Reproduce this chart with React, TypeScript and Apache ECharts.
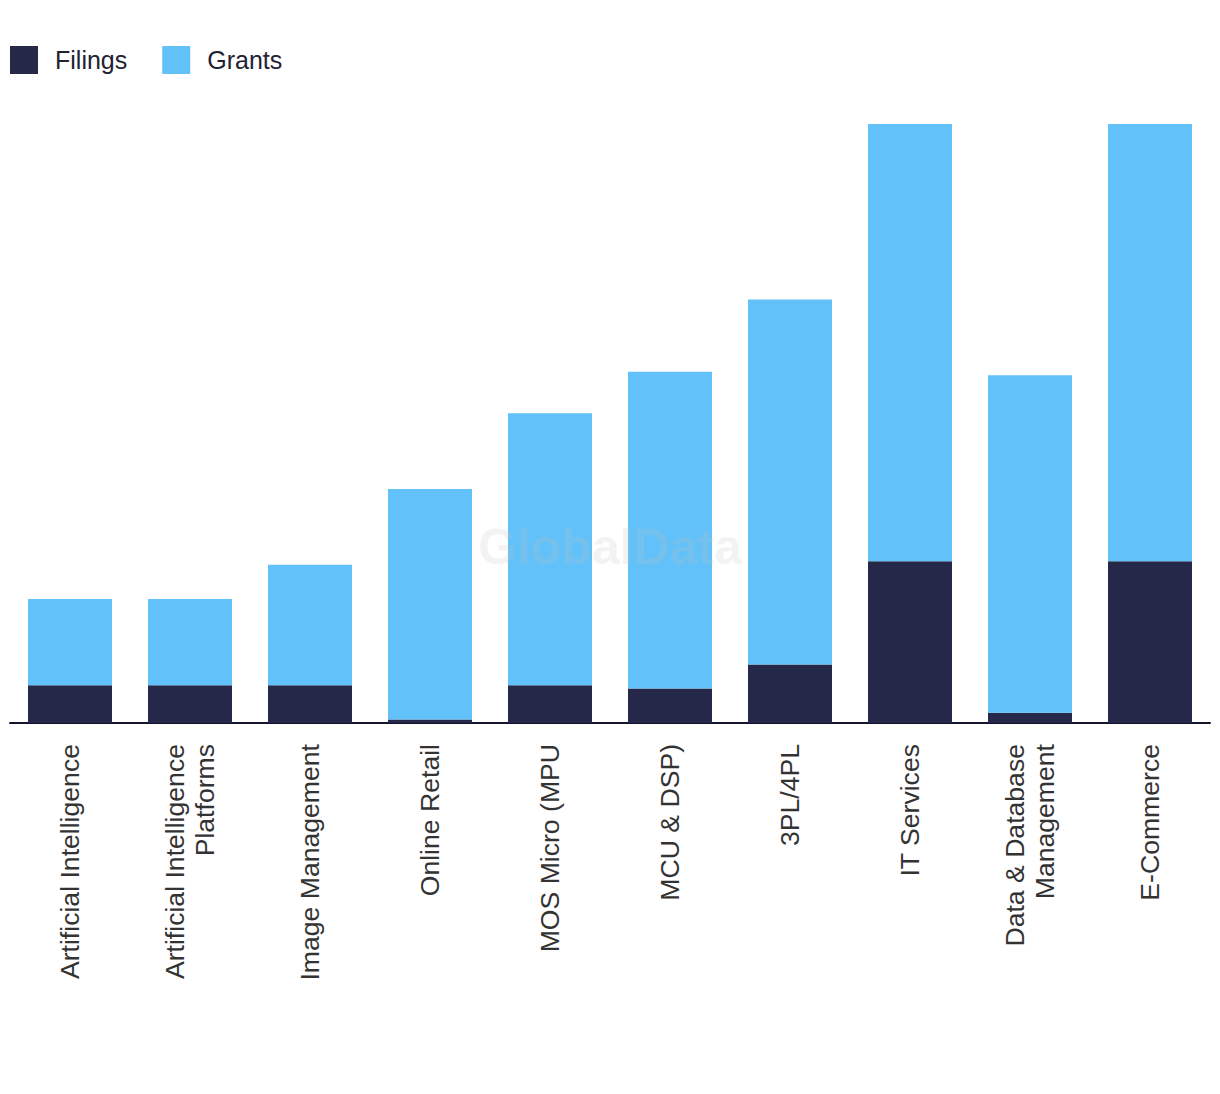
import React, { useEffect, useRef } from "react";
import * as echarts from "echarts";

const categories = [
  "Artificial Intelligence",
  "Artificial Intelligence\nPlatforms",
  "Image Management",
  "Online Retail",
  "MOS Micro (MPU",
  "MCU & DSP)",
  "3PL/4PL",
  "IT Services",
  "Data & Database\nManagement",
  "E-Commerce",
];
const filings = [11, 11, 11, 1, 11, 10, 17, 47, 3, 47];
const grants = [25, 25, 35, 67, 79, 92, 106, 127, 98, 127];
const seriesNames = ["Filings", "Grants"];
const colors = ["#262849", "#62C1F9"];

export default function App() {
  const ref = useRef<HTMLDivElement>(null);
  useEffect(() => {
    document.body.style.margin = "0";
    const chart = echarts.init(ref.current!, undefined, { renderer: "svg" });
    chart.setOption({
      animation: false,
      color: colors,
      legend: {
        left: 10,
        top: 46,
        padding: 0,
        itemWidth: 28,
        itemHeight: 28,
        itemGap: 35,
        icon: "rect",
        textStyle: {
          fontFamily: "Liberation Sans",
          fontSize: 25,
          color: "#222233",
          padding: [0, 0, 0, 12],
        },
        data: seriesNames,
      },
      grid: { left: 10, right: 10, top: 124, bottom: 371, containLabel: false },
      xAxis: {
        type: "category",
        data: categories,
        axisLine: { show: true, lineStyle: { color: "#14142a", width: 2 } },
        axisTick: { show: false },
        axisLabel: {
          rotate: 90,
          interval: 0,
          margin: 21,
          fontFamily: "Liberation Sans",
          fontSize: 26.6,
          lineHeight: 30,
          color: "#333333",
        },
      },
      yAxis: {
        type: "value",
        min: 0,
        max: 174,
        show: false,
        splitLine: { show: false },
      },
      graphic: [
        {
          type: "text",
          left: "center",
          top: 522,
          z: 100,
          style: {
            text: "GlobalData",
            fontFamily: "Liberation Sans",
            fontWeight: "bold",
            fontSize: 50,
            fill: "rgba(195,195,195,0.2)",
          },
        },
      ],
      series: [
        {
          name: seriesNames[0],
          type: "bar",
          stack: "total",
          barWidth: 84,
          data: filings,
          itemStyle: { color: colors[0] },
        },
        {
          name: seriesNames[1],
          type: "bar",
          stack: "total",
          barWidth: 84,
          data: grants,
          itemStyle: { color: colors[1] },
        },
      ],
    });
    return () => chart.dispose();
  }, []);
  return <div ref={ref} style={{ width: 1220, height: 1094 }} />;
}
